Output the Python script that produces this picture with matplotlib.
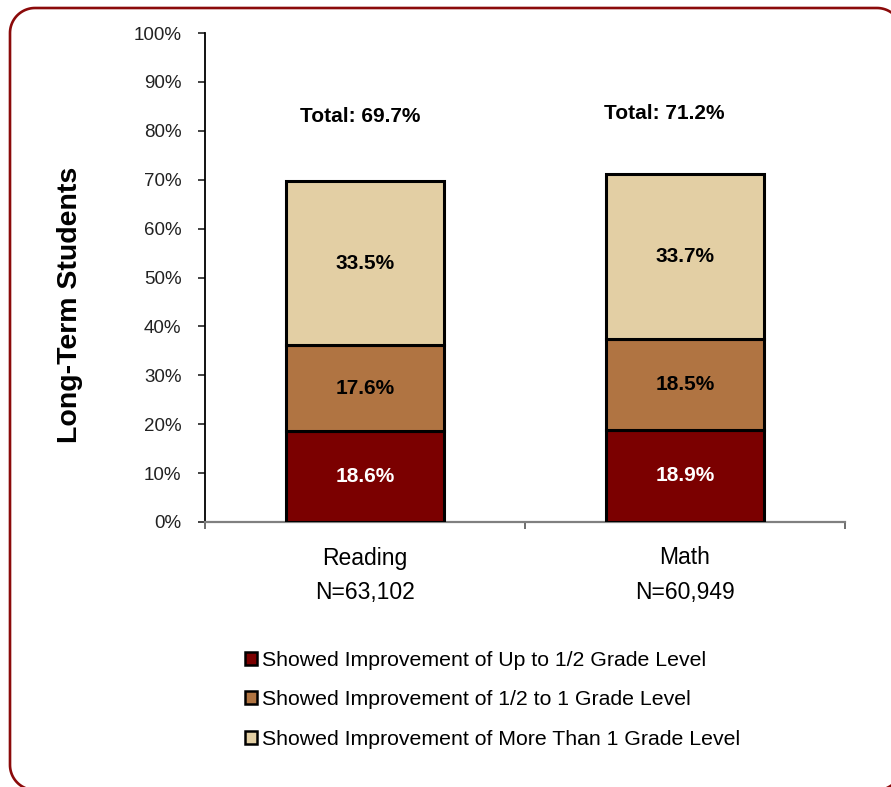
import math
import matplotlib
matplotlib.use("Agg")
import matplotlib.pyplot as plt
from matplotlib.patches import Polygon
from matplotlib.transforms import IdentityTransform, blended_transform_factory

# Data
categories = ["Reading", "Math"]
sample_sizes = ["N=63,102", "N=60,949"]
up_to_half = [18.6, 18.9]
half_to_one = [17.6, 18.5]
more_than_one = [33.5, 33.7]
totals = [69.7, 71.2]
series_names = [
    "Showed Improvement of Up to 1/2 Grade Level",
    "Showed Improvement of 1/2 to 1 Grade Level",
    "Showed Improvement of More Than 1 Grade Level",
]
series_colors = ["#7B0000", "#B07442", "#E3CFA4"]

SANS = ["Liberation Sans", "DejaVu Sans"]
NARROW = ["Liberation Sans Narrow", "Liberation Sans", "DejaVu Sans"]

W, H, DPI = 891, 787, 100
fig = plt.figure(figsize=(W / DPI, H / DPI), dpi=DPI)
ax = fig.add_axes([205 / W, 1 - 522 / H, 640 / W, 489 / H])

x = list(range(len(categories)))
width = 0.495
series = [up_to_half, half_to_one, more_than_one]
bottoms = [0.0] * len(categories)
handles = []
for vals, color, name in zip(series, series_colors, series_names):
    bars = ax.bar(x, vals, width, bottom=bottoms, color=color,
                  edgecolor="black", linewidth=2.2, label=name, zorder=3)
    handles.append(bars)
    for xi, v, b in zip(x, vals, bottoms):
        txt_color = "white" if color == series_colors[0] else "black"
        ax.text(xi, b + v / 2, f"{v:.1f}%", ha="center", va="center",
                fontsize=15, fontweight="bold", color=txt_color,
                family=SANS, zorder=4)
    bottoms = [b + v for b, v in zip(bottoms, vals)]

# Totals above the stacks (slightly left of each bar's centre)
total_dx = [-0.015, -0.065]
total_y = [83.0, 83.6]
for xi, dx, ty, t in zip(x, total_dx, total_y, totals):
    ax.text(xi + dx, ty, f"Total: {t:.1f}%", ha="center", va="center",
            fontsize=15, fontweight="bold", family=SANS)

ax.set_xlim(-0.5, 1.5)
ax.set_ylim(0, 100)
ax.set_yticks(range(0, 101, 10))
ax.set_yticklabels([f"{v}%" for v in range(0, 101, 10)])
for lab in ax.get_yticklabels():
    lab.set_family(NARROW)
    lab.set_fontsize(13.5)
ax.tick_params(axis="y", direction="out", length=5, width=1.2, pad=12,
               colors="#222222")
ax.set_xticks([-0.5, 0.5, 1.5])
ax.set_xticklabels([])
ax.tick_params(axis="x", direction="out", length=5, width=1.2, color="#555555")

for side in ("top", "right"):
    ax.spines[side].set_visible(False)
ax.spines["left"].set_color("black")
ax.spines["left"].set_linewidth(1.3)
ax.spines["bottom"].set_color("#808080")
ax.spines["bottom"].set_linewidth(1.6)

# Category names with sample sizes
trans = blended_transform_factory(ax.transData, fig.transFigure)
for xi, cat, n in zip(x, categories, sample_sizes):
    ax.text(xi, 1 - 558 / H, cat, transform=trans, ha="center", va="center",
            fontsize=16.5, family=SANS)
    ax.text(xi, 1 - 592 / H, n, transform=trans, ha="center", va="center",
            fontsize=16.5, family=NARROW)

fig.text(70 / W, 1 - 305 / H, "Long-Term Students", rotation=90,
         ha="center", va="center", fontsize=20.5, fontweight="bold",
         family=SANS)

leg = fig.legend(handles=handles, labels=series_names, loc="upper left",
                 bbox_to_anchor=(245 / W, 1 - 651 / H), frameon=False,
                 prop={"family": SANS, "size": 15.3}, handlelength=0.55,
                 handleheight=0.55, handletextpad=0.25, labelspacing=0.96,
                 borderpad=0, borderaxespad=0)
for h in leg.legend_handles:
    h.set_linewidth(1.8)


def rounded_frame(left, top, right, bottom, r, n=24):
    """Outline of a rounded rectangle in pixel coordinates (origin bottom-left)."""
    corners = [  # (centre x, centre y, start angle)
        (right - r, top - r, 0),
        (left + r, top - r, 90),
        (left + r, bottom + r, 180),
        (right - r, bottom + r, 270),
    ]
    pts = []
    for cx, cy, a0 in corners:
        for k in range(n + 1):
            a = math.radians(a0 + 90 * k / n)
            pts.append((cx + r * math.cos(a), cy + r * math.sin(a)))
    return pts


frame = Polygon(rounded_frame(10, H - 8, 902, H - 790, 25), closed=True,
                transform=IdentityTransform(), facecolor="none",
                edgecolor="#8B0A0A", linewidth=1.9)
fig.patches.append(frame)

fig.savefig("out.png", dpi=DPI)
